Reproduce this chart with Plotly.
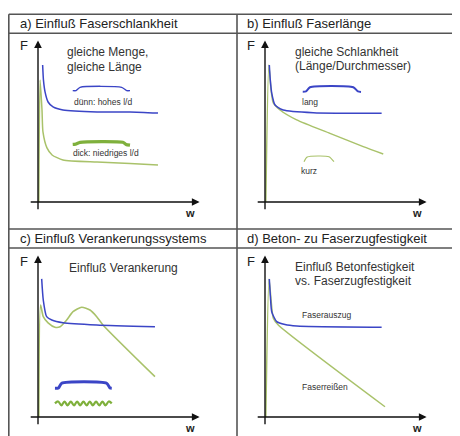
import plotly.graph_objects as go

OFF = 8                  # default page body margin of the html page
FW, FH = 460 - OFF, 436 - OFF
S = 16.0  # px per unit

# ---------------- data (units: w, F) ----------------
# panel a) Einfluß Faserschlankheit
a_blue_w = [0.29, 0.34, 0.44, 0.63, 0.94, 1.56, 3.69, 5.75, 7.5]
a_blue_F = [8.56, 7.63, 6.88, 6.25, 5.94, 5.75, 5.63, 5.63, 5.56]
a_green_w = [0.05, 0.13, 0.25, 0.31, 0.56, 0.88, 1.56, 3.69, 5.75, 7.5]
a_green_F = [0.0, 7.63, 5.75, 4.38, 3.38, 2.94, 2.63, 2.5, 2.41, 2.31]
a_icon_blue_w = [2.17, 2.38, 2.63, 5.23, 5.54, 5.75]
a_icon_blue_F = [6.96, 6.96, 7.17, 7.17, 6.96, 6.96]
a_icon_green_w = [2.17, 2.35, 2.63, 5.3, 5.5, 5.75]
a_icon_green_F = [3.6, 3.62, 3.73, 3.73, 3.6, 3.55]

# panel b) Einfluß Faserlänge
b_blue_w = [0.27, 0.33, 0.42, 0.63, 1.14, 3.02, 7.29]
b_blue_F = [8.56, 7.63, 6.81, 6.06, 5.75, 5.58, 5.54]
b_green_w = [0.05, 0.24, 0.38, 0.52, 0.94, 1.98, 4.06, 6.14, 7.39]
b_green_F = [0.0, 8.56, 7.0, 6.19, 5.75, 5.13, 4.29, 3.46, 3.0]
b_icon_blue_w = [2.36, 2.56, 2.81, 5.52, 5.81, 6.0]
b_icon_blue_F = [6.89, 6.91, 7.17, 7.17, 6.91, 6.88]
b_icon_green_w = [2.44, 2.64, 4.0, 4.31]
b_icon_green_F = [2.52, 2.81, 2.83, 2.52]

# panel c) Einfluß Verankerungssystems
c_blue_w = [0.23, 0.33, 0.54, 0.86, 1.56, 3.67, 7.31]
c_blue_F = [8.63, 7.31, 6.27, 6.06, 5.89, 5.75, 5.64]
c_green_w = [0.05, 0.16, 0.33, 0.63, 1.06, 1.38, 1.79, 2.19, 2.73, 3.25, 3.67, 4.06, 7.31]
c_green_F = [0.0, 7.0, 6.27, 5.88, 5.61, 5.64, 6.06, 6.58, 6.86, 6.69, 6.27, 5.75, 2.52]
c_icon_blue_w = [1.06, 1.28, 1.48, 4.29, 4.5, 4.61]
c_icon_blue_F = [1.79, 1.81, 2.11, 2.11, 1.81, 1.79]
c_wave_w = [1.06, 1.26, 1.46, 1.65, 1.85, 2.05, 2.25, 2.44, 2.64, 2.84,
            3.04, 3.23, 3.43, 3.63, 3.83, 4.02, 4.22, 4.42, 4.61]
c_wave_F = [0.85, 0.97, 0.73, 0.97, 0.73, 0.97, 0.73, 0.97, 0.73, 0.97,
            0.73, 0.97, 0.73, 0.97, 0.73, 0.97, 0.73, 0.97, 0.85]

# panel d) Beton- zu Faserzugfestigkeit
d_blue_w = [0.27, 0.34, 0.42, 0.73, 1.25, 1.98, 7.29]
d_blue_F = [8.63, 7.5, 6.58, 5.96, 5.78, 5.69, 5.61]
d_green_w = [0.05, 0.25, 0.38, 0.52, 0.83, 7.5]
d_green_F = [0.0, 8.63, 7.31, 6.17, 5.75, 0.64]

headers = ["a) Einfluß Faserschlankheit", "b) Einfluß Faserlänge",
           "c) Einfluß Verankerungssystems", "d) Beton- zu Faserzugfestigkeit"]

# ---------------- styling / layout ----------------
BLUE = "#3b45c6"
GREEN = "#a9c26a"
GREEN_DARK = "#7fb03c"
FONT = "Liberation Sans, Arial, sans-serif"


def px_x(x):
    return (x - OFF) / FW


def px_y(y):
    return 1 - (y - OFF) / FH


origins = [(38, 202), (265, 202), (38, 417), (265, 417)]
RMIN, RMAX = -1.0, 11.0

fig = go.Figure()
layout_axes = {}
for i, (ox, oy) in enumerate(origins, start=1):
    sfx = "" if i == 1 else str(i)
    x0 = px_x(ox + RMIN * S)
    x1 = px_x(ox + RMAX * S)
    y_top = px_y(oy - RMAX * S)
    y_bot = max(0.0, px_y(oy - RMIN * S))
    # keep scale exact even if bottom is clamped
    ymin = RMAX - (y_top - y_bot) * FH / S
    layout_axes["xaxis" + sfx] = dict(domain=[x0, x1], range=[RMIN, RMAX], visible=False,
                                      anchor="y" + sfx, fixedrange=True)
    layout_axes["yaxis" + sfx] = dict(domain=[y_bot, y_top], range=[ymin, RMAX], visible=False,
                                      anchor="x" + sfx, fixedrange=True)


def add_line(w, F, p, color, width, smoothing=0.6):
    sfx = "" if p == 1 else str(p)
    fig.add_trace(go.Scatter(x=w, y=F, mode="lines", xaxis="x" + sfx, yaxis="y" + sfx,
                             line=dict(color=color, width=width, shape="spline",
                                       smoothing=smoothing),
                             hoverinfo="skip", showlegend=False, cliponaxis=False))


# panel a
add_line(a_green_w, a_green_F, 1, GREEN, 1.5)
add_line(a_blue_w, a_blue_F, 1, BLUE, 1.5)
add_line(a_icon_blue_w, a_icon_blue_F, 1, BLUE, 1.3)
add_line(a_icon_green_w, a_icon_green_F, 1, GREEN_DARK, 3.2)
# panel b
add_line(b_green_w, b_green_F, 2, GREEN, 1.5)
add_line(b_blue_w, b_blue_F, 2, BLUE, 1.5)
add_line(b_icon_blue_w, b_icon_blue_F, 2, BLUE, 2)
add_line(b_icon_green_w, b_icon_green_F, 2, GREEN, 1.2)
# panel c
add_line(c_green_w, c_green_F, 3, GREEN, 1.6)
add_line(c_blue_w, c_blue_F, 3, BLUE, 1.5)
add_line(c_icon_blue_w, c_icon_blue_F, 3, BLUE, 3)
add_line(c_wave_w, c_wave_F, 3, GREEN_DARK, 2.2, smoothing=1.0)
# panel d
add_line(d_green_w, d_green_F, 4, GREEN, 1.5)
add_line(d_blue_w, d_blue_F, 4, BLUE, 1.5)

annotations = []


def text(p, w, F, s, size=12, color="#333333", xanchor="left"):
    sfx = "" if p == 1 else str(p)
    annotations.append(dict(x=w, y=F, xref="x" + sfx, yref="y" + sfx, text=s, showarrow=False,
                            xanchor=xanchor, yanchor="middle",
                            font=dict(family=FONT, size=size, color=color)))


# axis arrows
for p in range(1, 5):
    sfx = "" if p == 1 else str(p)
    annotations.append(dict(x=10.1, y=0, ax=-0.55, ay=0, xref="x" + sfx, yref="y" + sfx,
                            axref="x" + sfx, ayref="y" + sfx, text="", showarrow=True,
                            arrowhead=2, arrowsize=1.1, arrowwidth=1.4, arrowcolor="#111111"))
    annotations.append(dict(x=0, y=10.1, ax=0, ay=-0.55, xref="x" + sfx, yref="y" + sfx,
                            axref="x" + sfx, ayref="y" + sfx, text="", showarrow=True,
                            arrowhead=2, arrowsize=1.1, arrowwidth=1.4, arrowcolor="#111111"))
    text(p, -0.85, 9.75, "F", size=13, color="#222222", xanchor="center")
    text(p, 9.5, -0.68, "<b>w</b>", size=11, color="#222222", xanchor="center")

text(1, 1.69, 9.36, "gleiche Menge,")
text(1, 1.69, 8.46, "gleiche Länge")
text(1, 2.1, 6.27, "dünn: hohes l/d", size=8.5)
text(1, 2.06, 3.06, "dick: niedriges l/d", size=8.5)

text(2, 1.77, 9.36, "gleiche Schlankheit")
text(2, 1.77, 8.5, "(Länge/Durchmesser)")
text(2, 2.19, 6.27, "lang", size=8.5)
text(2, 2.13, 1.96, "kurz", size=8.5)

text(3, 1.79, 9.33, "Einfluß Verankerung")

text(4, 1.77, 9.39, "Einfluß Betonfestigkeit")
text(4, 1.77, 8.52, "vs. Faserzugfestigkeit")
text(4, 2.19, 6.38, "Faserauszug", size=8.5)
text(4, 2.19, 1.86, "Faserreißen", size=8.5)

# headers
for s, (hx, hy) in zip(headers, [(18, 23.5), (245, 23.5), (18, 238.5), (245, 238.5)]):
    annotations.append(dict(x=px_x(hx), y=px_y(hy), xref="paper", yref="paper", text=s,
                            showarrow=False, xanchor="left", yanchor="middle",
                            font=dict(family=FONT, size=13, color="#222222")))

# table lines
shapes = []
LC = "#555555"
for yy in [14.3, 33.3, 229, 248]:
    shapes.append(dict(type="line", xref="paper", yref="paper", x0=px_x(8.8), x1=1.0,
                       y0=px_y(yy), y1=px_y(yy), line=dict(color=LC, width=1.6)))
for xx in [8.8, 237]:
    shapes.append(dict(type="line", xref="paper", yref="paper", x0=px_x(xx), x1=px_x(xx),
                       y0=px_y(14.3), y1=0, line=dict(color=LC, width=1.6)))

fig.update_layout(width=FW, height=FH, margin=dict(l=0, r=0, t=0, b=0),
                  paper_bgcolor="white", plot_bgcolor="rgba(0,0,0,0)",
                  showlegend=False, annotations=annotations, shapes=shapes, **layout_axes)

fig.write_html("out.html")
